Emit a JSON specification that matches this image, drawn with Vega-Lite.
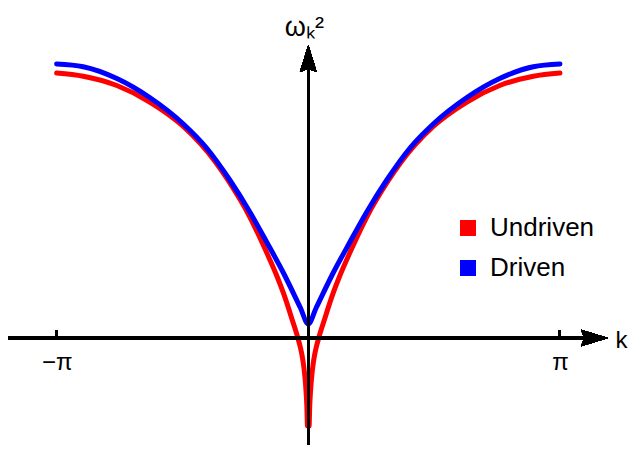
{
  "$schema": "https://vega.github.io/schema/vega-lite/v6.json",
  "width": 629,
  "height": 451,
  "padding": 0,
  "autosize": {"type": "none"},
  "config": {"view": {"stroke": null}, "font": "Liberation Sans"},
  "data": {
    "values": [
      {"k": -3.142, "w2": 2.65, "series": "Undriven"},
      {"k": -2.81, "w2": 2.618, "series": "Undriven"},
      {"k": -2.39, "w2": 2.525, "series": "Undriven"},
      {"k": -1.98, "w2": 2.36, "series": "Undriven"},
      {"k": -1.56, "w2": 2.115, "series": "Undriven"},
      {"k": -1.15, "w2": 1.75, "series": "Undriven"},
      {"k": -1.0, "w2": 1.575, "series": "Undriven"},
      {"k": -0.73, "w2": 1.21, "series": "Undriven"},
      {"k": -0.52, "w2": 0.855, "series": "Undriven"},
      {"k": -0.4, "w2": 0.635, "series": "Undriven"},
      {"k": -0.31, "w2": 0.448, "series": "Undriven"},
      {"k": -0.2, "w2": 0.18, "series": "Undriven"},
      {"k": -0.13, "w2": 0.0, "series": "Undriven"},
      {"k": -0.1, "w2": -0.09, "series": "Undriven"},
      {"k": -0.08, "w2": -0.165, "series": "Undriven"},
      {"k": -0.0625, "w2": -0.25, "series": "Undriven"},
      {"k": -0.05, "w2": -0.33, "series": "Undriven"},
      {"k": -0.041, "w2": -0.4, "series": "Undriven"},
      {"k": -0.033, "w2": -0.475, "series": "Undriven"},
      {"k": -0.025, "w2": -0.57, "series": "Undriven"},
      {"k": -0.018, "w2": -0.68, "series": "Undriven"},
      {"k": -0.01, "w2": -0.88, "series": "Undriven"},
      {"k": 0.01, "w2": -0.88, "series": "Undriven"},
      {"k": 0.018, "w2": -0.68, "series": "Undriven"},
      {"k": 0.025, "w2": -0.57, "series": "Undriven"},
      {"k": 0.033, "w2": -0.475, "series": "Undriven"},
      {"k": 0.041, "w2": -0.4, "series": "Undriven"},
      {"k": 0.05, "w2": -0.33, "series": "Undriven"},
      {"k": 0.0625, "w2": -0.25, "series": "Undriven"},
      {"k": 0.08, "w2": -0.165, "series": "Undriven"},
      {"k": 0.1, "w2": -0.09, "series": "Undriven"},
      {"k": 0.13, "w2": 0.0, "series": "Undriven"},
      {"k": 0.2, "w2": 0.18, "series": "Undriven"},
      {"k": 0.31, "w2": 0.448, "series": "Undriven"},
      {"k": 0.4, "w2": 0.635, "series": "Undriven"},
      {"k": 0.52, "w2": 0.855, "series": "Undriven"},
      {"k": 0.73, "w2": 1.21, "series": "Undriven"},
      {"k": 1.0, "w2": 1.575, "series": "Undriven"},
      {"k": 1.15, "w2": 1.75, "series": "Undriven"},
      {"k": 1.56, "w2": 2.115, "series": "Undriven"},
      {"k": 1.98, "w2": 2.36, "series": "Undriven"},
      {"k": 2.39, "w2": 2.525, "series": "Undriven"},
      {"k": 2.81, "w2": 2.618, "series": "Undriven"},
      {"k": 3.142, "w2": 2.65, "series": "Undriven"},
      {"k": -3.142, "w2": 2.74, "series": "Driven"},
      {"k": -2.81, "w2": 2.713, "series": "Driven"},
      {"k": -2.39, "w2": 2.595, "series": "Driven"},
      {"k": -1.98, "w2": 2.405, "series": "Driven"},
      {"k": -1.56, "w2": 2.14, "series": "Driven"},
      {"k": -1.27, "w2": 1.9, "series": "Driven"},
      {"k": -0.98, "w2": 1.58, "series": "Driven"},
      {"k": -0.73, "w2": 1.26, "series": "Driven"},
      {"k": -0.52, "w2": 0.96, "series": "Driven"},
      {"k": -0.31, "w2": 0.65, "series": "Driven"},
      {"k": -0.1, "w2": 0.305, "series": "Driven"},
      {"k": 0.0, "w2": 0.14, "series": "Driven"},
      {"k": 0.1, "w2": 0.305, "series": "Driven"},
      {"k": 0.31, "w2": 0.65, "series": "Driven"},
      {"k": 0.52, "w2": 0.96, "series": "Driven"},
      {"k": 0.73, "w2": 1.26, "series": "Driven"},
      {"k": 0.98, "w2": 1.58, "series": "Driven"},
      {"k": 1.27, "w2": 1.9, "series": "Driven"},
      {"k": 1.56, "w2": 2.14, "series": "Driven"},
      {"k": 1.98, "w2": 2.405, "series": "Driven"},
      {"k": 2.39, "w2": 2.595, "series": "Driven"},
      {"k": 2.81, "w2": 2.713, "series": "Driven"},
      {"k": 3.142, "w2": 2.74, "series": "Driven"}
    ]
  },
  "layer": [
    {
      "mark": {"type": "line", "strokeWidth": 5, "strokeCap": "round", "strokeJoin": "round", "interpolate": "monotone"},
      "encoding": {
        "x": {"field": "k", "type": "quantitative", "scale": {"domain": [-3.849, 4.004], "nice": false, "zero": false},
              "axis": {"offset": -113, "values": [-3.14159, 3.14159], "labelExpr": "datum.value < 0 ? '−π' : 'π'", "domain": false, "ticks": false, "grid": false, "labelFontSize": 24, "labelFont": "Liberation Sans", "labelColor": "black", "labelPadding": 12, "labelAlign": "center", "title": "k", "titleFontSize": 24, "titleFont": "Liberation Sans", "titleFontWeight": "normal", "titleColor": "black", "titleX": 621, "titleY": 9, "titleAlign": "center", "titleBaseline": "alphabetic", "titleAngle": 0}},
        "y": {"field": "w2", "type": "quantitative", "scale": {"domain": [-1.13, 3.38], "nice": false, "zero": false},
              "axis": {"offset": -308.3, "values": [], "domain": false, "ticks": false, "grid": false, "labels": false, "title": "ωₖ²", "titleFontSize": 27, "titleFont": "Liberation Sans", "titleFontWeight": "normal", "titleColor": "black", "titleAngle": 0, "titleX": -24, "titleY": 35, "titleAlign": "left", "titleBaseline": "alphabetic"}},
        "color": {
          "field": "series", "type": "nominal",
          "scale": {"domain": ["Undriven", "Driven"], "range": ["#ff0000", "#0000ff"]},
          "legend": {
            "orient": "none", "legendX": 455, "legendY": 215, "title": null, "padding": 0,
            "symbolType": "square", "symbolSize": 256, "symbolStrokeWidth": 0,
            "labelFontSize": 26, "labelFont": "Liberation Sans", "labelColor": "black", "labelOffset": 9, "rowPadding": 14,
            "encode": {"symbols": {"update": {"fill": {"scale": "color", "field": "value"}, "opacity": {"value": 1}}}}
          }
        },
        "order": {"field": "series", "sort": "descending"}
      }
    },
    {
      "mark": {"type": "rule", "color": "black", "strokeWidth": 2.5},
      "encoding": {
        "x": {"datum": -3.749, "type": "quantitative"},
        "x2": {"datum": 3.52},
        "y": {"datum": 0, "type": "quantitative"}
      }
    },
    {
      "mark": {"type": "rule", "color": "black", "strokeWidth": 2.5},
      "encoding": {
        "x": {"datum": 0, "type": "quantitative"},
        "y": {"datum": -1.07, "type": "quantitative"},
        "y2": {"datum": 2.7}
      }
    },
    {
      "mark": {"type": "rule", "color": "black", "strokeWidth": 2},
      "encoding": {
        "x": {"datum": -3.14159, "type": "quantitative"},
        "y": {"datum": 0, "type": "quantitative"},
        "y2": {"datum": 0.08}
      }
    },
    {
      "mark": {"type": "rule", "color": "black", "strokeWidth": 2},
      "encoding": {
        "x": {"datum": 3.14159, "type": "quantitative"},
        "y": {"datum": 0, "type": "quantitative"},
        "y2": {"datum": 0.08}
      }
    },
    {
      "mark": {"type": "point", "shape": "M -1 -0.62 L 1 0 L -1 0.62 L -0.75 0 Z", "filled": true, "color": "black", "opacity": 1, "size": 729, "strokeWidth": 0},
      "encoding": {
        "x": {"datum": 3.573, "type": "quantitative"},
        "y": {"datum": 0, "type": "quantitative"}
      }
    },
    {
      "mark": {"type": "point", "shape": "M -0.62 1 L 0 -1 L 0.62 1 L 0 0.75 Z", "filled": true, "color": "black", "opacity": 1, "size": 729, "strokeWidth": 0},
      "encoding": {
        "x": {"datum": 0, "type": "quantitative"},
        "y": {"datum": 2.795, "type": "quantitative"}
      }
    }
  ]
}
